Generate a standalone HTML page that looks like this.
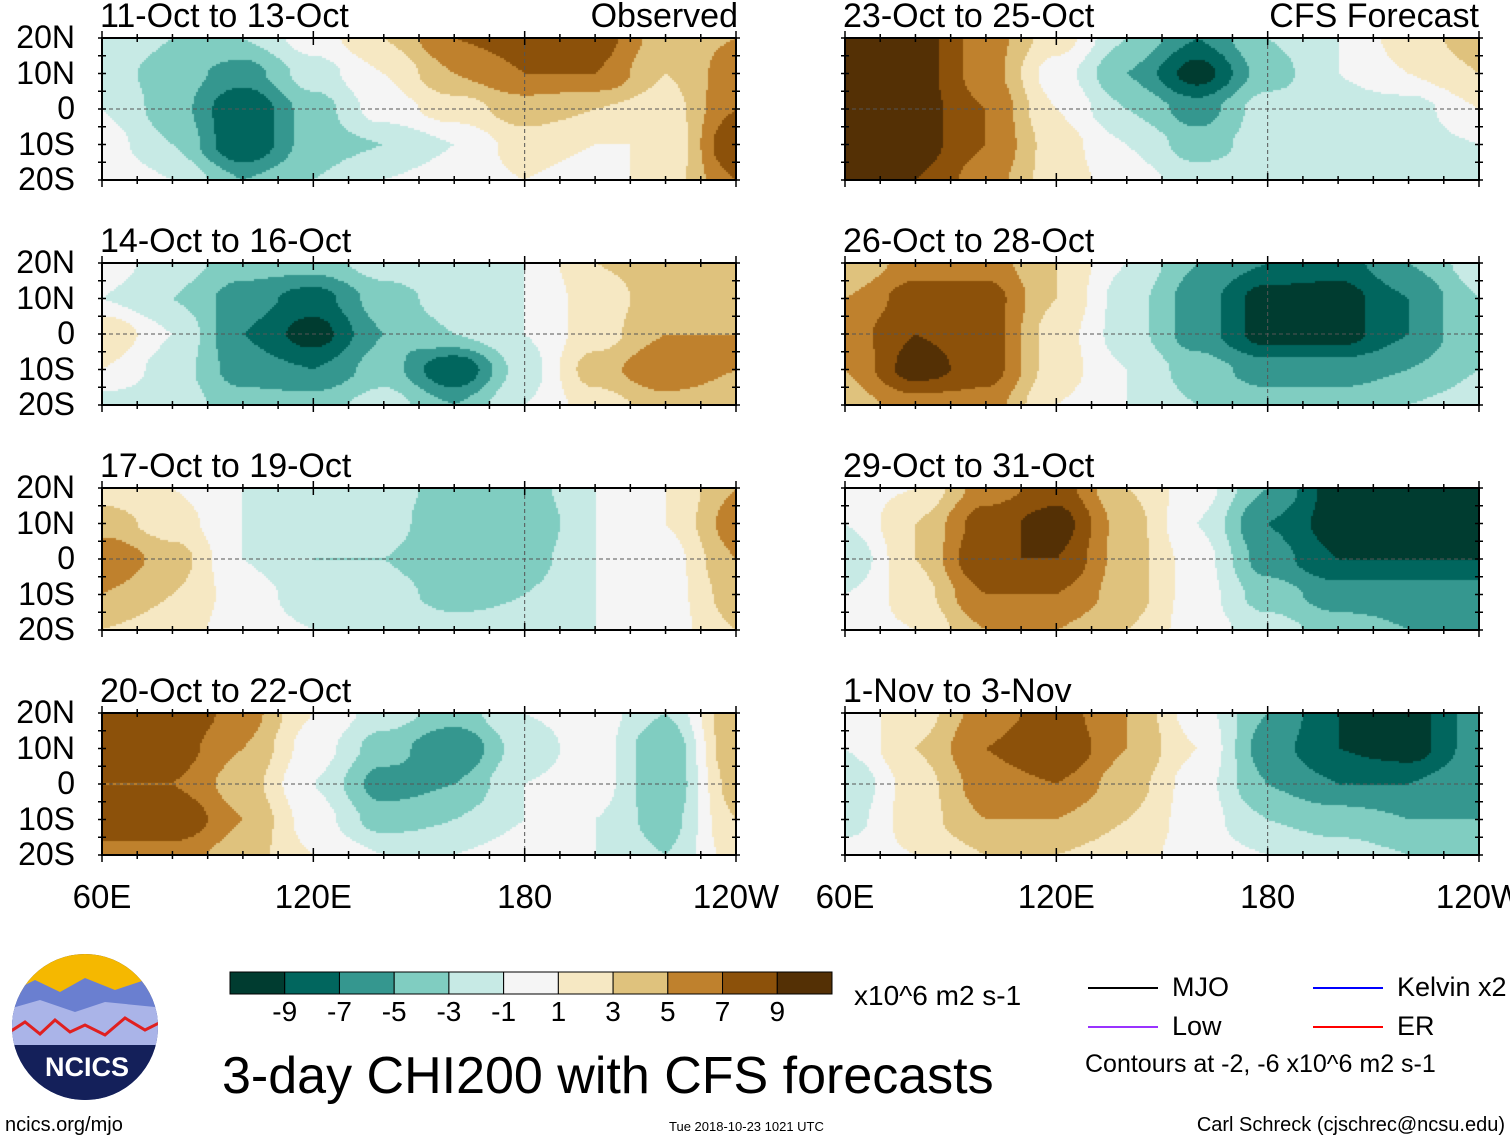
<!DOCTYPE html>
<html><head><meta charset="utf-8">
<style>
body{margin:0;width:1510px;height:1142px;background:#fff;position:relative;overflow:hidden;font-family:"Liberation Sans",Arial,sans-serif;}
.t{position:absolute;white-space:nowrap;color:#000;}
canvas{position:absolute;}
svg{position:absolute;left:0;top:0;}
</style></head><body>
<div id="root"></div>
<svg id="ov" width="1510" height="1142"></svg>
<script>
// ---- data ----
const lons=[60,80,100,120,140,160,180,200,220,240];
const lats=[20,10,0,-10,-20];
const levels=[-9,-7,-5,-3,-1,1,3,5,7,9];
const colors=["#003c30","#01665e","#35978f","#80cdc1","#c7eae5","#f5f5f5","#f6e8c3","#dfc27d","#bf812d","#8c510a","#543005"];
const titles=["11-Oct to 13-Oct","14-Oct to 16-Oct","17-Oct to 19-Oct","20-Oct to 22-Oct","23-Oct to 25-Oct","26-Oct to 28-Oct","29-Oct to 31-Oct","1-Nov to 3-Nov"];
const p1=[[-1,-3,-3,0,3,7,8,8,4,5],[-2,-4,-6,-2,1,5,7,7,3,6],[-1,-4,-9,-4,0,2,4,3,2,7],[0,-3,-9,-4,-3,-1,2,1,1,9],[1,-1,-5,-3,-1,0,1,0,2,7]];
const p2=[[0,-2,-4,-4,-2,-1,-1,3,4,4],[-1,-3,-6,-8,-4,-2,-1,2,4,5],[3,-1,-7,-10,-5,-3,-1,2,5,5],[1,-2,-6,-7,-4,-9,-2,4,7,5],[-2,-2,-4,-4,-2,-5,-1,2,4,3]];
const p3=[[2,1,-1,-2,-2,-4,-4,-1,1,5],[4,2,-1,-3,-2,-5,-5,-1,1,6],[7,4,-1,-3,-3,-5,-4,-1,0,5],[5,3,0,-2,-2,-4,-3,-1,0,4],[3,2,0,-1,-1,-2,-2,-1,0,3]];
const p4=[[9,9,6,1,-2,-4,-1,0,-3,5],[8,8,5,0,-4,-7,-2,0,-5,5],[7,7,4,-1,-6,-5,-1,0,-5,4],[9,9,5,0,-4,-3,-1,-1,-4,3],[6,6,4,1,-1,-1,0,-1,-3,2]];
const p5=[[10,10,6,2,-3,-7,-3,-1,2,4],[10,10,6,0,-5,-10,-4,-1,1,3],[10,10,7,1,-3,-6,-2,-2,-2,1],[10,10,7,2,-1,-4,-2,-2,-2,-1],[10,9,6,2,0,-2,-2,-2,-2,-1]];
const p6=[[3,6,6,3,-1,-5,-7,-8,-5,-2],[5,8,8,3,-2,-6,-10,-10,-7,-3],[6,9,8,2,-2,-6,-10,-10,-7,-3],[5,10,8,2,-1,-4,-6,-6,-5,-3],[4,6,6,1,-1,-3,-4,-4,-3,-2]];
const p7=[[0,1,6,8,3,0,-5,-10,-10,-9],[-1,3,8,10,4,-1,-7,-10,-10,-10],[-3,3,9,9,4,0,-6,-9,-9,-9],[-1,2,7,7,4,0,-4,-6,-6,-6],[0,1,5,5,3,0,-2,-4,-5,-6]];
const p8=[[0,2,6,8,5,0,-5,-9,-10,-6],[-1,3,7,9,5,1,-6,-9,-10,-6],[-3,2,6,7,4,0,-5,-7,-7,-5],[-2,2,5,5,3,0,-3,-4,-5,-5],[0,1,3,3,2,0,-1,-2,-3,-3]];
const panelsData=[p1,p2,p3,p4,p5,p6,p7,p8];

const root=document.getElementById('root');
const ov=document.getElementById('ov');
const NS="http://www.w3.org/2000/svg";
const colX=[102,845], rowY=[38,263,488,713], PW=634, PH=142;
function xs(lon,c){return colX[c]+(lon-60)/180*PW;}
function ys(lat,r){return rowY[r]+(20-lat)/40*PH;}
function colorFor(v){let i=0;while(i<levels.length&&v>levels[i])i++;return colors[i];}
function sv(tag,attrs){const e=document.createElementNS(NS,tag);for(const k in attrs)e.setAttribute(k,attrs[k]);ov.appendChild(e);return e;}
function txt(s,x,y,size,extra){const d=document.createElement('div');d.className='t';d.textContent=s;d.style.left=x+'px';d.style.top=y+'px';d.style.fontSize=size+'px';if(extra)Object.assign(d.style,extra);root.appendChild(d);return d;}

panelsData.forEach((g,pi)=>{
  const c=pi<4?0:1, r=pi%4;
  const cv=document.createElement('canvas');
  cv.width=PW;cv.height=PH;cv.style.left=colX[c]+'px';cv.style.top=rowY[r]+'px';
  
  
  root.appendChild(cv);
  const ctx=cv.getContext('2d');
  const s=2;
  for(let y=0;y<PH;y+=s){for(let x=0;x<PW;x+=s){
    const lon=60+(x+s/2)/PW*180, lat=20-(y+s/2)/PH*40;
    let u=(lon-lons[0])/20, v=(lats[0]-lat)/10;
    u=Math.max(0,Math.min(lons.length-1.0001,u));v=Math.max(0,Math.min(lats.length-1.0001,v));
    const i=Math.floor(u),j=Math.floor(v);
    let fu=u-i,fv=v-j;
    fu=fu*fu*(3-2*fu);fv=fv*fv*(3-2*fv);
    const val=g[j][i]*(1-fu)*(1-fv)+g[j][i+1]*fu*(1-fv)+g[j+1][i]*(1-fu)*fv+g[j+1][i+1]*fu*fv;
    ctx.fillStyle=colorFor(val);ctx.fillRect(x,y,s,s);
  }}
  const x0=colX[c],y0=rowY[r];
  const fr=sv('rect',{x:x0,y:y0,width:PW,height:PH,fill:'none',stroke:'#000','stroke-width':2});
  
  
  sv('line',{x1:x0,y1:ys(0,r),x2:x0+PW,y2:ys(0,r),stroke:'#555','stroke-dasharray':'4,3','stroke-width':1});
  sv('line',{x1:xs(180,c),y1:y0,x2:xs(180,c),y2:y0+PH,stroke:'#555','stroke-dasharray':'4,3','stroke-width':1});
  for(let lon=60;lon<=240;lon+=10){const xx=xs(lon,c);const L=lon%60==0?7:4;
    sv('line',{x1:xx,y1:y0-L,x2:xx,y2:y0+L,stroke:'#000','stroke-width':1.5});
    sv('line',{x1:xx,y1:y0+PH-L,x2:xx,y2:y0+PH+L,stroke:'#000','stroke-width':1.5});}
  for(let lat=-20;lat<=20;lat+=5){const yy=ys(lat,r);
    sv('line',{x1:x0-4,y1:yy,x2:x0+4,y2:yy,stroke:'#000','stroke-width':1.5});
    sv('line',{x1:x0+PW-4,y1:yy,x2:x0+PW+4,y2:yy,stroke:'#000','stroke-width':1.5});}
  const t=txt(titles[pi],x0-2,y0-41,34);
  
  if(c==0){["20N","10N","0","10S","20S"].forEach((s,k)=>{const d=txt(s,0,ys(lats[k],r)-19,32,{width:'75px',textAlign:'right'});
    });}
});
const ob=txt("Observed",0,0,34,{left:'auto',right:(1510-738)+'px',top:'-3px'});
const cf=txt("CFS Forecast",0,0,34,{left:'auto',right:(1510-1479)+'px',top:'-3px'});
[["60E",60],["120E",120],["180",180],["120W",240]].forEach(([s,l])=>{[0,1].forEach(c=>{
  const d=txt(s,xs(l,c)-70,878,33,{width:'140px',textAlign:'center'});});});

const cbx=230,cbw=602,cby=972,cbh=22,bw=cbw/colors.length;
colors.forEach((col,i)=>{const e=sv('rect',{x:cbx+i*bw,y:cby,width:bw,height:cbh,fill:col,stroke:'#000','stroke-width':1});
  });
levels.forEach((lv,i)=>{const d=txt(String(lv),cbx+(i+1)*bw-30,996,28,{width:'60px',textAlign:'center'});});
const un=txt("x10^6 m2 s-1",854,980,28);
const mt=txt("3-day CHI200 with CFS forecasts",222,1046,52);
[["MJO","#000",1088,988],["Low","#9933ff",1088,1027],["Kelvin x2","#0000ff",1313,988],["ER","#ff0000",1313,1027]].forEach(([n,col,x,y])=>{
  const l=sv('line',{x1:x,y1:y,x2:x+70,y2:y,stroke:col,'stroke-width':2});
  const d=txt(n,x+84,y-16,27);});
const ct=txt("Contours at -2, -6 x10^6 m2 s-1",1085,1050,25);
const f1=txt("ncics.org/mjo",5,1114,20);
const f2=txt("Tue 2018-10-23 1021 UTC",669,1119,13);
const f3=txt("Carl Schreck (cjschrec@ncsu.edu)",0,1114,20,{left:'auto',right:'5px'});
</script>
<svg width="160" height="160" style="left:5px;top:950px">
<defs><clipPath id="cc"><circle cx="80" cy="77" r="73"/></clipPath></defs>
<g clip-path="url(#cc)">
<rect x="0" y="0" width="160" height="160" fill="#1a2a6c"/>
<rect x="0" y="0" width="160" height="45" fill="#f5b800"/>
<path d="M0 45 L30 30 L55 42 L80 28 L110 40 L140 30 L160 38 L160 80 L0 80Z" fill="#6a7fd0"/>
<path d="M0 60 L35 50 L70 62 L100 52 L160 58 L160 95 L0 95Z" fill="#aab4e8"/>
<path d="M0 85 L20 72 L35 84 L50 70 L65 82 L80 75 L100 85 L120 68 L140 80 L160 70" fill="none" stroke="#e02020" stroke-width="3"/>
<rect x="0" y="95" width="160" height="70" fill="#14205a"/>
</g>
<text x="82" y="126" font-family="Liberation Sans,Arial,sans-serif" font-size="27" font-weight="bold" fill="#fff" text-anchor="middle">NCICS</text>
</svg>
</body></html>
